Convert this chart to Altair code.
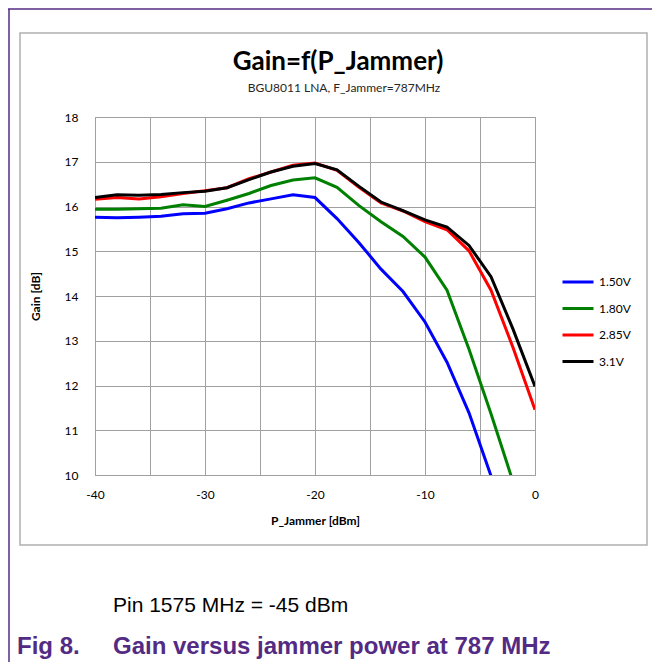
import altair as alt
import pandas as pd

# ---- data ----
p_jammer = [-40, -38, -36, -34, -32, -30, -28, -26, -24, -22, -20,
            -18, -16, -14, -12, -10, -8, -6, -4, -2, 0]

gain_150 = [15.76, 15.75, 15.76, 15.78, 15.84, 15.85, 15.95, 16.08, 16.17, 16.26, 16.20,
            15.73, 15.19, 14.60, 14.10, 13.42, 12.52, 11.39, 9.98]
gain_180 = [15.94, 15.94, 15.95, 15.96, 16.04, 16.00, 16.14, 16.29, 16.47, 16.59, 16.64,
            16.43, 16.02, 15.66, 15.33, 14.87, 14.13, 12.81, 11.37, 9.85]
gain_285 = [16.16, 16.20, 16.17, 16.22, 16.29, 16.35, 16.42, 16.62, 16.77, 16.92, 16.97,
            16.81, 16.43, 16.08, 15.90, 15.66, 15.48, 15.01, 14.13, 12.85, 11.46]
gain_310 = [16.20, 16.26, 16.25, 16.27, 16.31, 16.34, 16.42, 16.60, 16.77, 16.90, 16.96,
            16.82, 16.45, 16.10, 15.91, 15.70, 15.54, 15.13, 14.43, 13.26, 11.98]

series = ["1.50V", "1.80V", "2.85V", "3.1V"]
colors = ["#0000ff", "#008000", "#ff0000", "#000000"]

x_ticks = [-40, -35, -30, -25, -20, -15, -10, -5, 0]
y_ticks = [10, 11, 12, 13, 14, 15, 16, 17, 18]

title_text = "Gain=f(P_Jammer)"
subtitle_text = "BGU8011 LNA, F_Jammer=787MHz"
caption_text = "Pin 1575 MHz = -45 dBm"
fig_label = "Fig 8."
fig_text = "Gain versus jammer power at 787 MHz"

rows = []
for name, vals in zip(series, [gain_150, gain_180, gain_285, gain_310]):
    for xv, gv in zip(p_jammer, vals):
        rows.append({"P": xv, "Gain": gv, "Supply": name})
df = pd.DataFrame(rows)

one = pd.DataFrame({"d": [0]})

PURPLE = "#532b85"
FONT = "Lato"

lines = alt.Chart(df).mark_line(strokeWidth=3, clip=True).encode(
    x=alt.X("P:Q",
            scale=alt.Scale(domain=[-40, 0], nice=False, zero=False),
            axis=alt.Axis(values=x_ticks, title="P_Jammer [dBm]",
                          labelExpr="datum.value % 10 == 0 ? '' + datum.value : ''",
                          ticks=False, domain=False, grid=True,
                          gridColor="#a0a0a0", gridWidth=1,
                          labelFont=FONT, labelFontSize=12, labelColor="#000000",
                          labelPadding=14, labelFlush=False,
                          titleFont=FONT, titleFontSize=12, titleFontWeight="bold",
                          titleColor="#000000", titleY=45, titleBaseline="middle")),
    y=alt.Y("Gain:Q",
            scale=alt.Scale(domain=[10, 18], nice=False, zero=False),
            axis=alt.Axis(values=y_ticks, title="Gain [dB]",
                          ticks=False, domain=False, grid=True,
                          gridColor="#a0a0a0", gridWidth=1,
                          labelFont=FONT, labelFontSize=12, labelColor="#000000",
                          labelPadding=17,
                          titleFont=FONT, titleFontSize=12, titleFontWeight="bold",
                          titleColor="#000000", titleX=-60, titleY=179,
                          titleBaseline="middle", titleAngle=270)),
    color=alt.Color("Supply:N",
                    scale=alt.Scale(domain=series, range=colors),
                    legend=alt.Legend(title=None, orient="none",
                                      legendX=466, legendY=148,
                                      symbolType="stroke", symbolSize=961,
                                      symbolStrokeWidth=3, rowPadding=3.5,
                                      labelFont=FONT, labelFontSize=12,
                                      labelColor="#000000", labelOffset=4,
                                      padding=0)),
)

top_line = alt.Chart(one).mark_rule(color=PURPLE, strokeWidth=1.5).encode(
    x=alt.value(-87), x2=alt.value(565), y=alt.value(-108))
left_line = alt.Chart(one).mark_rule(color=PURPLE, strokeWidth=1.5).encode(
    x=alt.value(-86), y=alt.value(-108), y2=alt.value(546))

box = alt.Chart(one).mark_rect(fillOpacity=0, stroke="#b0b0b0", strokeWidth=1.5).encode(
    x=alt.value(-75), x2=alt.value(552), y=alt.value(-84), y2=alt.value(428))

title = alt.Chart(one).mark_text(text=title_text, font=FONT, fontSize=26,
                                 fontWeight="bold", align="center", baseline="middle",
                                 color="#000000").encode(x=alt.value(243), y=alt.value(-55))
subtitle = alt.Chart(one).mark_text(text=subtitle_text, font=FONT, fontSize=12,
                                    align="center", baseline="middle",
                                    color="#262626").encode(x=alt.value(249), y=alt.value(-29))
caption = alt.Chart(one).mark_text(text=caption_text, font="Liberation Sans", fontSize=21,
                                   align="left", baseline="middle",
                                   color="#000000").encode(x=alt.value(18), y=alt.value(489))
fig_l = alt.Chart(one).mark_text(text=fig_label, font="Liberation Sans", fontSize=24,
                                 fontWeight="bold", align="left", baseline="middle",
                                 color=PURPLE).encode(x=alt.value(-78), y=alt.value(530))
fig_t = alt.Chart(one).mark_text(text=fig_text, font="Liberation Sans", fontSize=24,
                                 fontWeight="bold", align="left", baseline="middle",
                                 color=PURPLE).encode(x=alt.value(18), y=alt.value(530))

chart = alt.layer(top_line, left_line, box, lines, title, subtitle, caption, fig_l, fig_t).properties(
    width=440, height=358,
    autosize=alt.AutoSizeParams(type="none"),
    padding={"left": 87, "top": 109, "right": 117, "bottom": 187},
).configure_view(stroke="#a0a0a0", strokeWidth=1)

chart.save("out.html", embed_options={"renderer": "svg", "actions": False})
